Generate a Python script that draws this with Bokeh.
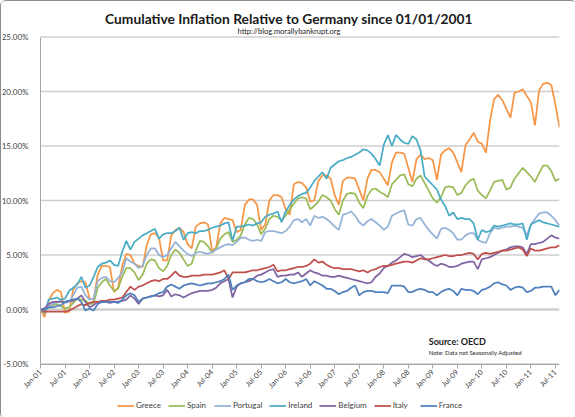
import math
import numpy as np
from bokeh.plotting import figure
from bokeh.models import (FixedTicker, Label, Legend, LegendItem)
from bokeh.embed import file_html
from bokeh.resources import INLINE

# ---------------- data (monthly, Jan-2001 .. Aug-2011, % vs Germany) -------------
greece = [
    0, -0.7, 0.8, 1.5, 1.8, 1.6, -0.3, -0.2, 1.8, 2.4, 2.6, 2.5,
    1.0, 0.9, 3.2, 4.0, 4.0, 3.9, 1.6, 2.0, 4.0, 5.1, 5.0, 4.2,
    4.0, 3.9, 5.9, 6.9, 7.0, 6.6, 4.5, 4.5, 6.8, 7.3, 7.5, 7.1,
    6.0, 5.6, 7.6, 7.9, 8.0, 7.8, 5.4, 5.7, 7.9, 8.4, 8.3, 8.2,
    7.1, 7.3, 9.6, 10.1, 10.1, 9.6, 7.3, 7.8, 10.0, 10.5, 10.5, 10.3,
    9.2, 8.7, 11.5, 11.7, 11.6, 11.2, 9.9, 10.0, 11.8, 12.3, 12.3, 12.0,
    10.5, 9.6, 11.8, 12.1, 12.1, 12.0, 11.0, 10.0, 12.0, 12.8, 12.8, 12.6,
    12.0, 11.4, 13.5, 14.4, 14.4, 14.3, 13.0, 11.7, 13.8, 14.2, 13.8, 13.9,
    13.7, 11.9, 14.2, 14.6, 14.8, 14.4, 13.5, 12.6, 15.1, 15.6, 16.2, 15.4,
    15.2, 14.4, 17.3, 19.3, 19.7, 19.2, 18.4, 17.6, 19.9, 20.0, 20.2, 19.6,
    19.0, 16.9, 20.1, 20.7, 20.8, 20.6, 18.8, 16.7,
]
spain = [
    0, -0.3, 0.2, 0.4, 0.5, 0.3, 0.1, 0.2, 0.6, 1.0, 0.9, 0.8,
    0.5, 0.6, 2.0, 2.5, 2.8, 2.2, 1.7, 1.9, 3.0, 3.8, 3.8, 3.4,
    2.7, 3.2, 4.2, 4.6, 4.5, 3.8, 3.5, 4.0, 5.0, 5.5, 5.2, 4.6,
    4.0, 4.2, 5.4, 6.3, 6.2, 5.8, 5.2, 5.6, 6.5, 6.9, 7.1, 6.2,
    6.4, 6.8, 7.8, 8.4, 8.3, 7.8, 6.9, 7.4, 8.3, 8.6, 8.5, 8.2,
    8.6, 9.2, 9.7, 10.2, 10.3, 10.2, 9.2, 9.5, 9.9, 10.5, 10.3, 10.0,
    9.2, 8.7, 10.0, 10.6, 10.7, 10.6, 9.8, 9.3, 10.4, 11.0, 11.1, 10.8,
    10.6, 10.3, 11.5, 11.9, 12.3, 12.4, 11.5, 11.3, 12.0, 12.3, 11.6, 10.9,
    10.2, 9.8, 10.3, 11.2, 11.3, 11.2, 10.5, 10.7, 11.4, 11.8, 12.0, 10.9,
    10.5, 10.2, 10.9, 11.7, 11.8, 11.9, 11.0, 11.2, 12.0, 12.5, 13.0, 12.6,
    12.2, 11.7, 12.5, 13.2, 13.2, 12.7, 11.8, 12.0,
]
portugal = [
    0, -0.2, 0.3, 0.5, 0.7, 0.8, 0.6, 0.7, 1.3, 2.0, 2.1, 1.3,
    0.9, 1.0, 2.6, 2.9, 3.0, 2.6, 2.5, 2.9, 3.4, 4.7, 4.4, 4.2,
    3.8, 4.0, 5.0, 5.6, 5.6, 5.0, 4.8, 5.0, 5.6, 6.2, 5.8, 5.4,
    5.1, 4.9, 5.2, 5.3, 5.2, 5.1, 5.3, 5.5, 5.7, 5.9, 6.0, 5.9,
    6.2, 6.6, 6.6, 6.4, 6.3, 6.4, 6.3, 7.1, 7.2, 7.2, 7.1, 7.0,
    7.2, 7.6, 8.2, 8.3, 8.0, 8.3, 7.7, 8.6, 8.4, 8.5, 8.3, 8.0,
    7.6, 7.3, 8.7, 8.8, 9.0, 8.6, 8.0, 7.7, 8.1, 8.3, 8.0, 7.7,
    7.3, 7.6, 8.6, 8.8, 9.0, 9.1, 7.8, 7.7, 8.3, 8.4, 7.8, 7.3,
    6.9, 6.5, 7.4, 7.5, 7.3, 7.0, 6.4, 6.4, 6.8, 7.0, 7.0, 6.4,
    6.2, 6.1, 7.0, 7.5, 7.4, 7.5, 7.6, 7.6, 7.7, 7.6, 7.5, 6.8,
    7.8, 8.3, 8.8, 8.9, 8.9, 8.6, 8.2, 7.7,
]
ireland = [
    0, -0.3, 0.9, 1.0, 1.1, 0.9, 1.0, 1.7, 2.0, 2.3, 3.0, 2.0,
    2.2, 3.0, 3.9, 4.2, 4.3, 4.5, 4.1, 4.0, 5.3, 6.3, 5.5, 6.2,
    6.5, 6.8, 7.0, 7.2, 7.4, 6.5, 6.9, 7.0, 7.0, 7.2, 7.5, 6.4,
    7.0, 7.1, 7.0, 7.2, 7.2, 7.3, 7.5, 7.6, 7.7, 7.9, 8.0, 6.3,
    7.6, 7.6, 7.7, 7.8, 7.7, 7.9, 8.0, 8.5, 8.7, 8.8, 9.0, 8.0,
    9.0, 9.6, 10.1, 10.4, 10.6, 10.7, 11.2, 11.8, 12.2, 12.6, 12.0, 13.0,
    13.3, 13.6, 13.7, 13.9, 14.0, 14.2, 14.4, 14.7, 14.6, 14.3, 13.8, 13.2,
    15.1, 16.0, 15.0, 16.0, 15.6, 15.3, 15.2, 15.9, 15.6, 14.6, 12.2, 11.8,
    11.4, 11.0, 10.1, 9.5, 8.6, 8.9, 8.3, 8.4, 8.3, 8.3, 7.9, 6.4,
    7.3, 7.1, 7.2, 7.7, 7.6, 7.7, 7.8, 7.9, 7.8, 7.8, 7.9, 6.4,
    7.8, 8.0, 8.2, 8.0, 7.9, 7.8, 7.7, 7.6,
]
belgium = [
    0, 0.1, 0.5, 0.7, 0.7, 0.7, 0.7, 0.8, 0.8, 1.0, 1.3, 0.7,
    0.2, 0.4, 0.7, 0.7, 0.7, 0.6, 0.7, 0.7, 0.8, 0.9, 1.3, 1.0,
    0.5, 1.0, 1.1, 1.2, 1.3, 1.2, 1.3, 1.8, 1.2, 1.4, 1.3, 1.1,
    1.3, 1.5, 1.6, 1.7, 1.7, 1.7, 1.8, 2.0, 2.4, 2.6, 2.8, 1.1,
    2.1, 2.4, 2.5, 2.6, 2.8, 3.1, 3.2, 3.4, 3.6, 3.7, 3.0, 3.1,
    3.1, 3.2, 3.2, 3.4, 3.0, 3.3, 3.6, 3.4, 3.3, 3.1, 3.1, 3.0,
    3.0, 3.1, 3.0, 2.9, 2.8, 2.7, 2.6, 2.5, 2.4, 2.5, 3.0, 3.3,
    3.8, 4.0, 4.3, 4.5, 4.8, 5.1, 5.0, 4.8, 4.9, 5.0, 4.7, 4.5,
    4.2, 4.0, 4.2, 4.1, 3.9, 3.9, 4.0, 4.2, 4.3, 4.4, 4.4, 3.7,
    4.6, 4.7, 4.8, 5.0, 5.2, 5.4, 5.5, 5.7, 5.8, 5.8, 5.7, 5.1,
    6.0, 6.0, 6.1, 6.2, 6.5, 6.8, 6.6, 6.5,
]
italy = [
    0, -0.2, -0.2, -0.2, -0.2, -0.2, -0.2, -0.1, 0.1, 0.3, 0.5, 0.4,
    0.6, 0.7, 0.7, 0.8, 0.8, 0.9, 0.9, 1.0, 1.1, 1.6, 2.1, 1.8,
    2.1, 2.2, 2.4, 2.6, 2.7, 2.6, 2.8, 2.8, 3.1, 3.5, 3.1, 3.0,
    3.0, 3.1, 3.1, 3.1, 3.2, 3.2, 3.2, 3.3, 3.4, 3.6, 2.8, 3.4,
    3.4, 3.4, 3.4, 3.5, 3.6, 3.6, 3.7, 3.8, 3.9, 4.1, 3.5, 3.6,
    3.6, 3.7, 3.8, 3.9, 3.9, 4.0, 4.2, 4.6, 4.3, 4.4, 4.1, 3.9,
    3.8, 3.8, 3.7, 3.7, 3.7, 3.6, 3.5, 3.6, 3.4, 3.6, 3.7, 3.9,
    4.0, 4.0, 4.1, 4.2, 4.3, 4.4, 4.4, 4.3, 4.5, 4.7, 4.6, 4.6,
    4.7, 4.8, 4.9, 5.0, 4.9, 4.9, 5.0, 5.0, 5.1, 5.2, 5.1, 4.6,
    5.1, 5.2, 5.1, 5.2, 5.3, 5.4, 5.4, 5.5, 5.6, 5.7, 5.5, 4.9,
    5.6, 5.4, 5.4, 5.5, 5.6, 5.7, 5.7, 5.9,
]
france = [
    0, 0.0, 0.2, 0.2, 0.3, 0.4, 0.7, 0.8, 0.9, 1.0, 0.7, -0.1,
    0.1, -0.1, 0.5, 0.7, 0.7, 0.7, 0.7, 0.6, 0.9, 1.3, 1.5, 1.3,
    0.7, 1.0, 1.1, 1.2, 1.3, 1.5, 1.6, 2.1, 2.3, 2.1, 1.9, 2.2,
    2.3, 2.4, 2.3, 2.2, 2.3, 2.4, 2.4, 2.5, 2.6, 2.8, 3.2, 1.8,
    2.2, 2.4, 2.5, 2.8, 2.8, 2.6, 2.5, 2.6, 2.8, 2.6, 2.4, 2.5,
    2.8, 2.5, 2.4, 2.5, 2.6, 2.8, 2.2, 2.6, 2.4, 2.2, 1.9, 1.9,
    1.7, 1.4, 1.6, 1.7, 2.0, 2.2, 1.3, 1.6, 1.7, 1.7, 1.6, 1.6,
    1.6, 1.5, 2.2, 2.2, 2.2, 2.1, 1.6, 1.6, 1.8, 1.9, 1.8, 1.6,
    1.6, 1.3, 1.6, 1.8, 1.9, 1.7, 1.3, 1.9, 1.8, 1.8, 1.7, 1.4,
    1.8, 1.9, 2.1, 2.4, 2.5, 2.3, 2.2, 1.8, 2.0, 2.1, 2.0, 1.6,
    1.7, 2.0, 2.0, 2.1, 2.1, 2.1, 1.3, 1.8,
]

series_names = ["Greece", "Spain", "Portugal", "Ireland", "Belgium", "Italy", "France"]
series_values = [greece, spain, portugal, ireland, belgium, italy, france]
series_colors = ["#F79646", "#9BBB59", "#95B3D7", "#4BACC6", "#8064A2", "#C0504D", "#4F81BD"]

years = ["01", "02", "03", "04", "05", "06", "07", "08", "09", "10", "11"]
x_tick_labels = [f"{m}-{y}" for y in years for m in ("Jan", "Jul")]
y_ticks = [-5, 0, 5, 10, 15, 20, 25]

title_text = "Cumulative Inflation Relative to Germany since 01/01/2001"
subtitle_text = "http://blog.morallybankrupt.org"

# ---------------- figure ----------------
FONT = "Lato"
n = len(greece)
months = np.arange(n)

# The frame covers the whole chart so that titles, axis labels and the legend
# (all drawn inside it) are never clipped; the axes are pinned at Jan-01 and -5%.
PLOT_W, PLOT_H = 519, 327            # pixel size of the value area (-5..25%, Jan-01..Aug-11)
FRAME_W, FRAME_H = 557, 415
TOP_PAD = 34.5                       # pixels between frame top and the 25% line
px_x = PLOT_W / (n - 1)
px_y = PLOT_H / 30
X_START = -(FRAME_W - PLOT_W) / px_x
Y_TOP = 25 + TOP_PAD / px_y
Y_BOTTOM = Y_TOP - FRAME_H / px_y

p = figure(frame_width=FRAME_W, frame_height=FRAME_H, title=None,
           min_border_left=1, min_border_right=17, min_border_top=1, min_border_bottom=1,
           x_range=(X_START, n - 1), y_range=(Y_BOTTOM, Y_TOP),
           output_backend="svg", toolbar_location=None,
           background_fill_color="white", border_fill_color="white")
p.outline_line_color = None

# horizontal gridlines restricted to the value area
p.xgrid.grid_line_color = None
p.ygrid.grid_line_color = None
p.segment(x0=[0] * len(y_ticks), x1=[n - 1] * len(y_ticks), y0=y_ticks, y1=y_ticks,
          line_color="#cfcfcf", line_width=[2.5 if t == 0 else 1.5 for t in y_ticks])

renderers = []
for name, vals, col in zip(series_names, series_values, series_colors):
    r = p.line(months, vals, line_color=col, line_width=1.75)
    renderers.append((name, r))

# titles (centred on the chart)
title_x = (575 / 2 - (FRAME_W - PLOT_W) - 1) / px_x
p.add_layout(Label(x=title_x, y=25 + (35.5 - 16.5) / px_y, text=title_text, text_font=FONT,
                   text_font_size="13.8px", text_font_style="bold", text_align="center",
                   text_baseline="middle", text_color="#1a1a1a"))
p.add_layout(Label(x=title_x, y=25 + (35.5 - 29.5) / px_y, text=subtitle_text, text_font=FONT,
                   text_font_size="7.5px", text_align="center", text_baseline="middle",
                   text_color="#262626"))

# y axis, pinned at Jan-01
p.yaxis.fixed_location = 0
p.yaxis.ticker = FixedTicker(ticks=y_ticks)
p.yaxis.bounds = (-5, 25)
p.yaxis.major_label_overrides = {t: f"{t:.2f}%" for t in y_ticks}
p.yaxis.major_tick_line_color = None
p.yaxis.minor_tick_line_color = None
p.yaxis.axis_line_color = "#a6a6a6"
p.yaxis.major_label_text_font = FONT
p.yaxis.major_label_text_font_size = "8px"
p.yaxis.major_label_text_color = "#404040"
p.yaxis.major_label_standoff = 6
p.yaxis.axis_label = None

# x axis, pinned at -5%
x_ticks = list(range(0, n, 6))
p.xaxis.fixed_location = -5
p.xaxis.bounds = (0, n - 1)
p.xaxis.ticker = FixedTicker(ticks=x_ticks)
p.xaxis.major_label_overrides = {t: lab for t, lab in zip(x_ticks, x_tick_labels)}
p.xaxis.major_label_orientation = math.pi / 4
p.xaxis.major_tick_out = 4
p.xaxis.major_tick_in = 0
p.xaxis.minor_tick_line_color = None
p.xaxis.axis_line_color = "#a6a6a6"
p.xaxis.major_tick_line_color = "#a6a6a6"
p.xaxis.major_label_text_font = FONT
p.xaxis.major_label_text_font_size = "7.5px"
p.xaxis.major_label_text_color = "#404040"
p.xaxis.major_label_standoff = 3
p.xaxis.axis_label = None

# source notes
p.add_layout(Label(x=95, y=-2.95, text="Source: OECD", text_font=FONT, text_font_size="9px",
                   text_font_style="bold", text_baseline="middle", text_color="#1a1a1a"))
p.add_layout(Label(x=95, y=-3.9, text="Note: Data not Seasonally Adjusted", text_font=FONT,
                   text_font_size="6px", text_baseline="middle", text_color="#262626"))

# legend at the bottom of the frame
legend = Legend(items=[LegendItem(label=nm, renderers=[r]) for nm, r in renderers],
                orientation="horizontal", location=(115, 7),
                label_text_font=FONT, label_text_font_size="8px", label_text_color="#404040",
                glyph_width=17, glyph_height=9, label_height=9, label_standoff=2, spacing=7,
                padding=0, margin=0, border_line_color=None, background_fill_alpha=0)
p.add_layout(legend, "center")

p.styles = {"border": "1px solid #8c8c8c", "border-radius": "6px", "box-sizing": "border-box"}

open("out.html", "w").write(file_html(p, INLINE))
